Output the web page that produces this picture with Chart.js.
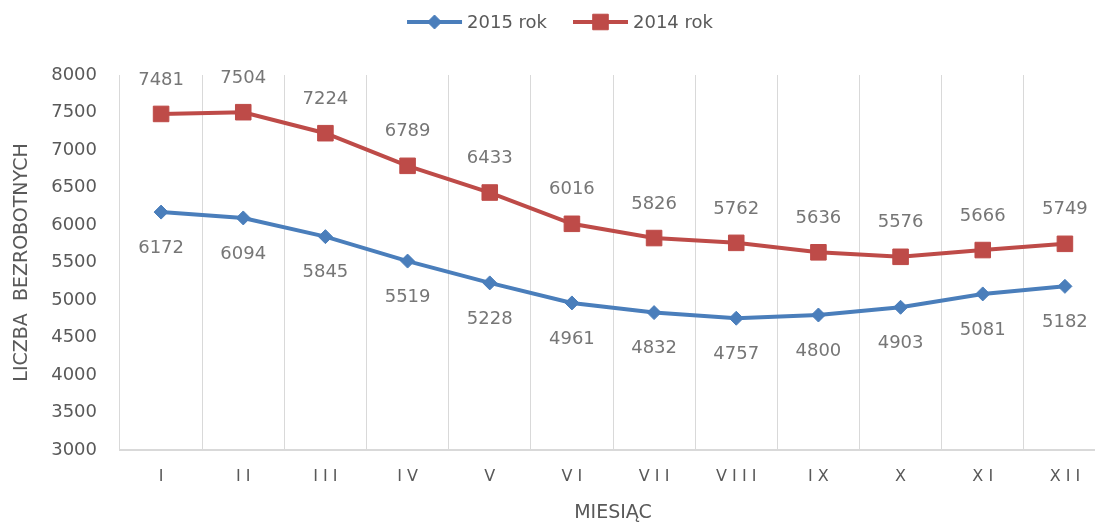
<!DOCTYPE html>
<html lang="pl">
<head>
<meta charset="utf-8">
<script src="https://cdn.jsdelivr.net/npm/chart.js@4.4.1/dist/chart.umd.min.js"></script>
<style>
  html, body { margin: 0; padding: 0; background: #fff; overflow: hidden; width: 1095px; height: 524px; }
  #wrap { position: relative; width: 1095px; height: 524px; overflow: hidden; }
  #wykres { display: block; position: absolute; left: 0; top: 0; }
</style>
</head>
<body>
<div id="wrap"><canvas id="wykres" width="1118" height="524"></canvas></div>
<script>
// Dane - liczba bezrobotnych wg miesiąca
const miesiace = ['I', 'II', 'III', 'IV', 'V', 'VI', 'VII', 'VIII', 'IX', 'X', 'XI', 'XII'];
const rok2015 = [6172, 6094, 5845, 5519, 5228, 4961, 4832, 4757, 4800, 4903, 5081, 5182];
const rok2014 = [7481, 7504, 7224, 6789, 6433, 6016, 5826, 5762, 5636, 5576, 5666, 5749];
const osYMin = 3000;
const osYMax = 8000;
const osYKrok = 500;

const FONT = '"DejaVu Sans", sans-serif';

// Etykiety wartości nad / pod punktami
const etykietyDanych = {
  id: 'etykietyDanych',
  afterDatasetsDraw(chart) {
    const ctx = chart.ctx;
    ctx.save();
    ctx.font = '18px ' + FONT;
    ctx.fillStyle = '#767676';
    ctx.textAlign = 'center';
    ctx.textBaseline = 'middle';
    chart.data.datasets.forEach((ds, i) => {
      const meta = chart.getDatasetMeta(i);
      meta.data.forEach((pt, j) => {
        ctx.fillText(String(ds.data[j]), pt.x, pt.y + ds.przesuniecie);
      });
    });
    ctx.restore();
  }
};

// Legenda z linią i znacznikiem (jak w Excelu)
const legendaLinie = {
  id: 'legendaLinie',
  afterDraw(chart) {
    const ctx = chart.ctx;
    ctx.save();
    ctx.font = '18px ' + FONT;
    ctx.textBaseline = 'middle';
    ctx.textAlign = 'left';
    const dl = 55, odstep = 5, przerwa = 26;
    const pozycje = chart.data.datasets.map(ds => dl + odstep + ctx.measureText(ds.label).width);
    const suma = pozycje.reduce((a, b) => a + b, 0) + przerwa * (pozycje.length - 1);
    let x = 560 - suma / 2;
    const y = 22;
    chart.data.datasets.forEach((ds, i) => {
      ctx.strokeStyle = ds.borderColor;
      ctx.lineWidth = 4;
      ctx.beginPath();
      ctx.moveTo(x, y);
      ctx.lineTo(x + dl, y);
      ctx.stroke();
      ctx.fillStyle = ds.pointBackgroundColor;
      ctx.strokeStyle = ds.pointBorderColor;
      ctx.lineWidth = 1;
      Chart.helpers.drawPoint(ctx, { pointStyle: ds.pointStyle, radius: ds.pointRadius, borderWidth: 1, rotation: 0 }, x + dl / 2, y);
      ctx.fillStyle = '#595959';
      ctx.fillText(ds.label, x + dl + odstep, y + 1);
      x += pozycje[i] + przerwa;
    });
    ctx.restore();
  }
};

const ctx = document.getElementById('wykres').getContext('2d');

new Chart(ctx, {
  type: 'line',
  data: {
    labels: miesiace,
    datasets: [{
      label: '2015 rok',
      data: rok2015,
      borderColor: '#4a7ebb',
      backgroundColor: '#4a7ebb',
      pointBackgroundColor: '#4a7ebb',
      pointBorderColor: '#4a7ebb',
      pointStyle: 'rectRot',
      pointRadius: 7,
      pointBorderWidth: 1,
      borderWidth: 4,
      tension: 0,
      przesuniecie: 36
    }, {
      label: '2014 rok',
      data: rok2014,
      borderColor: '#be4b48',
      backgroundColor: '#be4b48',
      pointBackgroundColor: '#be4b48',
      pointBorderColor: '#be4b48',
      pointStyle: 'rect',
      pointRadius: 11,
      pointBorderWidth: 1,
      borderWidth: 4,
      tension: 0,
      przesuniecie: -34
    }]
  },
  options: {
    responsive: false,
    animation: false,
    devicePixelRatio: 1,
    layout: { padding: { top: 75, left: 0, right: 0, bottom: 0 } },
    plugins: {
      legend: { display: false },
      tooltip: { enabled: false }
    },
    scales: {
      x: {
        offset: true,
        grid: { display: true, offset: true, color: '#d9d9d9', lineWidth: 1, drawTicks: false },
        border: { display: true, color: '#d9d9d9', width: 2 },
        ticks: {
          color: '#595959',
          font: { family: FONT, size: 16 },
          padding: 17,
          maxRotation: 0,
          autoSkip: false,
          callback: function (v) { return this.getLabelForValue(v).split('').join(' '); }
        },
        title: {
          display: true,
          text: 'MIESIĄC',
          color: '#595959',
          font: { family: FONT, size: 19 },
          padding: { top: 0, bottom: 0 }
        },
        afterFit(s) { s.height = 74; }
      },
      y: {
        min: osYMin,
        max: osYMax,
        grid: { display: false, drawTicks: false },
        border: { display: false },
        ticks: {
          stepSize: osYKrok,
          color: '#595959',
          font: { family: FONT, size: 18 },
          padding: 23,
          callback: (v) => String(v)
        },
        title: {
          display: true,
          text: 'LICZBA  BEZROBOTNYCH',
          color: '#595959',
          font: { family: FONT, size: 19 },
          padding: { top: 11, bottom: 0 }
        },
        afterFit(s) { s.width = 120; }
      }
    }
  },
  plugins: [etykietyDanych, legendaLinie]
});
</script>
</body>
</html>
